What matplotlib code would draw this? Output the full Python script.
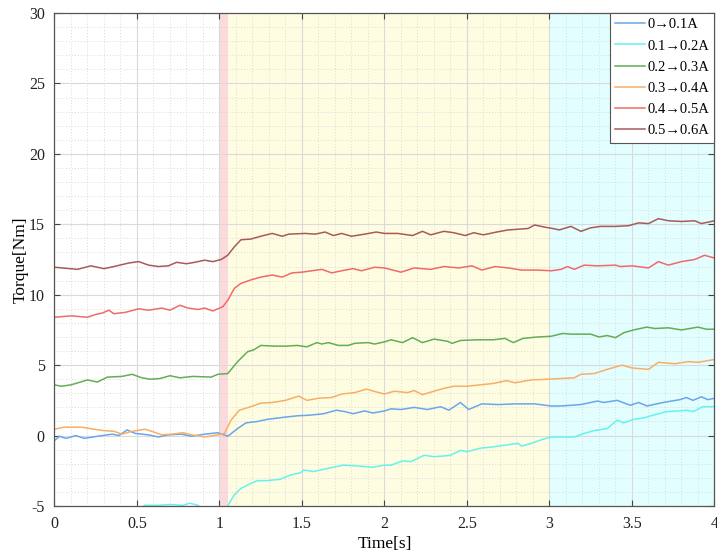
import matplotlib
matplotlib.use("Agg")
from matplotlib import pyplot as plt
from matplotlib.ticker import MultipleLocator

# 0.5 -> 0.6 A
t_06 = [0, 0.14, 0.22, 0.30, 0.36, 0.45, 0.51, 0.57, 0.63, 0.69, 0.74, 0.80, 0.85, 0.91, 0.96,
        1.01, 1.05, 1.09, 1.13, 1.19, 1.25, 1.32, 1.38, 1.42, 1.52, 1.58, 1.64, 1.69, 1.74, 1.80,
        1.88, 1.95, 2.0, 2.08, 2.17, 2.23, 2.28, 2.36, 2.42, 2.49, 2.54, 2.60, 2.68, 2.75, 2.81,
        2.87, 2.91, 2.97, 3.02, 3.06, 3.13, 3.19, 3.25, 3.31, 3.40, 3.48, 3.54, 3.60, 3.66, 3.72,
        3.80, 3.88, 3.92, 3.98, 4.0]
y_06 = [11.95, 11.8, 12.05, 11.85, 12.0, 12.25, 12.35, 12.1, 12.0, 12.05, 12.3, 12.2, 12.3, 12.45,
        12.35, 12.5, 12.8, 13.4, 13.9, 13.95, 14.15, 14.35, 14.15, 14.3, 14.35, 14.3, 14.45, 14.2,
        14.35, 14.15, 14.3, 14.45, 14.35, 14.35, 14.2, 14.5, 14.25, 14.5, 14.4, 14.2, 14.4, 14.25,
        14.45, 14.6, 14.65, 14.7, 14.95, 14.8, 14.7, 14.6, 14.85, 14.5, 14.75, 14.85, 14.85, 14.9,
        15.1, 15.05, 15.4, 15.25, 15.2, 15.25, 15.05, 15.2, 15.25]

# 0.4 -> 0.5 A
t_05 = [0, 0.10, 0.20, 0.25, 0.29, 0.33, 0.36, 0.43, 0.51, 0.57, 0.65, 0.70, 0.76, 0.81, 0.87,
        0.91, 0.96, 1.02, 1.05, 1.09, 1.13, 1.19, 1.25, 1.32, 1.38, 1.44, 1.50, 1.56, 1.62, 1.68,
        1.74, 1.81, 1.86, 1.94, 2.0, 2.10, 2.18, 2.28, 2.36, 2.45, 2.53, 2.59, 2.67, 2.75, 2.83,
        2.93, 3.01, 3.07, 3.11, 3.15, 3.21, 3.29, 3.40, 3.43, 3.50, 3.60, 3.66, 3.72, 3.80, 3.88,
        3.94, 4.0]
y_05 = [8.4, 8.5, 8.4, 8.6, 8.7, 8.9, 8.65, 8.75, 9.0, 8.9, 9.05, 8.9, 9.25, 9.05, 8.95, 9.05,
        8.85, 9.15, 9.6, 10.45, 10.8, 11.05, 11.25, 11.4, 11.25, 11.55, 11.6, 11.7, 11.8, 11.55,
        11.7, 11.85, 11.7, 11.95, 11.9, 11.6, 11.9, 11.8, 12.0, 11.9, 12.05, 11.75, 12.0, 11.9,
        11.75, 11.75, 11.7, 11.8, 12.0, 11.8, 12.1, 12.05, 12.1, 12.0, 12.05, 11.9, 12.35, 12.1,
        12.35, 12.5, 12.8, 12.6]

# 0.2 -> 0.3 A
t_03 = [0, 0.04, 0.10, 0.20, 0.26, 0.32, 0.41, 0.47, 0.53, 0.58, 0.64, 0.70, 0.76, 0.84, 0.95,
        0.99, 1.05, 1.11, 1.17, 1.21, 1.25, 1.33, 1.41, 1.47, 1.53, 1.59, 1.62, 1.66, 1.72, 1.78,
        1.82, 1.90, 1.94, 2.0, 2.04, 2.11, 2.17, 2.23, 2.30, 2.38, 2.41, 2.46, 2.56, 2.66, 2.73,
        2.78, 2.84, 2.93, 3.01, 3.08, 3.13, 3.25, 3.30, 3.35, 3.40, 3.45, 3.51, 3.59, 3.64, 3.72,
        3.80, 3.90, 3.95, 4.0]
y_03 = [3.6, 3.5, 3.6, 3.95, 3.8, 4.15, 4.2, 4.35, 4.1, 4.0, 4.05, 4.25, 4.1, 4.2, 4.15, 4.35,
        4.4, 5.25, 5.95, 6.1, 6.4, 6.35, 6.35, 6.4, 6.3, 6.6, 6.5, 6.6, 6.4, 6.4, 6.55, 6.6, 6.5,
        6.65, 6.8, 6.6, 6.95, 6.6, 6.85, 6.7, 6.55, 6.75, 6.8, 6.8, 6.9, 6.6, 6.9, 7.0, 7.05, 7.25,
        7.2, 7.2, 7.0, 7.1, 6.95, 7.3, 7.5, 7.7, 7.6, 7.65, 7.5, 7.7, 7.55, 7.55]

# 0.3 -> 0.4 A
t_04 = [0, 0.06, 0.16, 0.24, 0.30, 0.36, 0.41, 0.47, 0.55, 0.59, 0.65, 0.71, 0.78, 0.83, 0.91,
        0.99, 1.03, 1.07, 1.12, 1.19, 1.25, 1.32, 1.40, 1.48, 1.53, 1.60, 1.68, 1.74, 1.82, 1.89,
        1.95, 2.0, 2.06, 2.14, 2.18, 2.23, 2.30, 2.36, 2.42, 2.50, 2.58, 2.66, 2.74, 2.79, 2.89,
        2.99, 3.07, 3.15, 3.19, 3.27, 3.35, 3.44, 3.50, 3.60, 3.66, 3.76, 3.84, 3.90, 4.0]
y_04 = [0.45, 0.6, 0.6, 0.45, 0.35, 0.3, 0.1, 0.3, 0.45, 0.3, 0.05, 0.1, 0.2, 0.05, -0.1, 0.05,
        0.15, 1.1, 1.8, 2.05, 2.3, 2.35, 2.5, 2.8, 2.5, 2.65, 2.7, 2.95, 3.05, 3.3, 3.1, 2.95, 3.15,
        3.05, 3.2, 2.9, 3.15, 3.35, 3.5, 3.5, 3.6, 3.7, 3.9, 3.75, 3.95, 4.0, 4.05, 4.1, 4.35, 4.4,
        4.7, 5.0, 4.8, 4.7, 5.2, 5.1, 5.25, 5.2, 5.4]

# 0 -> 0.1 A
t_01 = [0, 0.03, 0.07, 0.13, 0.18, 0.26, 0.35, 0.39, 0.44, 0.49, 0.57, 0.63, 0.69, 0.77, 0.83,
        0.91, 0.99, 1.05, 1.11, 1.16, 1.23, 1.29, 1.39, 1.47, 1.55, 1.63, 1.71, 1.76, 1.81, 1.88,
        1.93, 2.0, 2.04, 2.10, 2.18, 2.26, 2.34, 2.39, 2.46, 2.51, 2.59, 2.69, 2.79, 2.91, 3.01,
        3.07, 3.19, 3.29, 3.33, 3.41, 3.49, 3.54, 3.59, 3.69, 3.79, 3.83, 3.87, 3.92, 3.96, 4.0]
y_01 = [-0.35, -0.05, -0.2, 0.0, -0.2, -0.05, 0.1, 0.0, 0.4, 0.15, 0.05, -0.1, 0.05, 0.1, -0.05,
        0.1, 0.2, -0.05, 0.5, 0.9, 1.0, 1.15, 1.3, 1.4, 1.45, 1.55, 1.8, 1.7, 1.55, 1.75, 1.6,
        1.75, 1.9, 1.85, 2.0, 1.85, 2.05, 1.8, 2.35, 1.85, 2.25, 2.2, 2.25, 2.25, 2.1, 2.1, 2.2,
        2.45, 2.35, 2.5, 2.15, 2.35, 2.1, 2.35, 2.55, 2.7, 2.5, 2.75, 2.55, 2.65]

# 0.1 -> 0.2 A
t_02 = [0, 0.3, 0.5, 0.55, 0.62, 0.7, 0.78, 0.82, 0.87, 0.9, 0.97, 1.03, 1.05, 1.09, 1.13, 1.19,
        1.23, 1.29, 1.37, 1.43, 1.49, 1.51, 1.57, 1.63, 1.69, 1.75, 1.83, 1.93, 2.0, 2.04, 2.11,
        2.16, 2.24, 2.30, 2.36, 2.40, 2.46, 2.50, 2.58, 2.66, 2.72, 2.81, 2.83, 2.89, 2.95, 3.01,
        3.15, 3.21, 3.27, 3.35, 3.39, 3.41, 3.45, 3.51, 3.57, 3.63, 3.71, 3.79, 3.83, 3.87, 3.93,
        4.0]
y_02 = [-5.6, -5.5, -5.2, -4.95, -4.95, -4.9, -4.95, -4.8, -4.95, -5.3, -5.4, -5.3, -5.0, -4.2,
        -3.75, -3.4, -3.2, -3.2, -3.1, -2.8, -2.65, -2.45, -2.55, -2.4, -2.25, -2.1, -2.15, -2.25,
        -2.1, -2.1, -1.8, -1.85, -1.4, -1.5, -1.45, -1.4, -1.05, -1.15, -0.9, -0.8, -0.7, -0.55,
        -0.75, -0.55, -0.3, -0.1, -0.1, 0.15, 0.35, 0.5, 0.9, 1.1, 0.9, 1.15, 1.25, 1.45, 1.7,
        1.75, 1.8, 1.7, 2.05, 2.05]

labels = ["0→0.1A", "0.1→0.2A", "0.2→0.3A", "0.3→0.4A", "0.4→0.5A", "0.5→0.6A"]
colors = ["#6aa6ea", "#66f2ee", "#62ae55", "#f8ae66", "#f06a6a", "#a85a5a"]

plt.rcParams["font.family"] = ["Liberation Serif", "DejaVu Serif"]
plt.rcParams["axes.unicode_minus"] = False

fig = plt.figure(figsize=(7.17, 5.53), dpi=100)
ax = fig.add_axes([0.076, 0.085, 0.9205, 0.8915])

ax.axvspan(1.0, 1.05, color="#fbd9dd", lw=0)
ax.axvspan(1.05, 3.0, color="#fefde2", lw=0)
ax.axvspan(3.0, 4.0, color="#e2fefe", lw=0)

series = [(t_01, y_01), (t_02, y_02), (t_03, y_03), (t_04, y_04), (t_05, y_05), (t_06, y_06)]
for (t, y), c, lab in zip(series, colors, labels):
    ax.plot(t, y, color=c, lw=1.1, label=lab)

ax.set_xlim(0, 4)
ax.set_ylim(-5, 30)
ax.xaxis.set_major_locator(MultipleLocator(0.5))
ax.xaxis.set_minor_locator(MultipleLocator(0.1))
ax.yaxis.set_major_locator(MultipleLocator(5))
ax.yaxis.set_minor_locator(MultipleLocator(1))
ax.set_xticks([0, 0.5, 1, 1.5, 2, 2.5, 3, 3.5, 4], ["0", "0.5", "1", "1.5", "2", "2.5", "3", "3.5", "4"])

ax.grid(which="major", color="#dadada", lw=0.8, ls="-")
ax.grid(which="minor", color="#dadada", lw=0.7, ls=(0, (1, 2)))
ax.tick_params(which="both", direction="in", top=True, right=True, colors="#444444", labelsize=11.5)
ax.tick_params(which="minor", length=0)
ax.tick_params(which="major", length=4, pad=7)
for s in ax.spines.values():
    s.set_color("#555555")
    s.set_linewidth(0.9)
for lbl in ax.get_xticklabels() + ax.get_yticklabels():
    lbl.set_color("#222222")

ax.set_xlabel("Time[s]", fontsize=12.5, labelpad=3)
ax.set_ylabel("Torque[Nm]", fontsize=12.5, labelpad=0)

leg = ax.legend(loc="upper right", borderaxespad=0, fontsize=10.5, fancybox=False,
                edgecolor="#555555", framealpha=1, handlelength=2.1, handletextpad=0.15,
                labelspacing=0.55, borderpad=0.35)
leg.get_frame().set_linewidth(0.8)

fig.savefig("out.png", dpi=100)
